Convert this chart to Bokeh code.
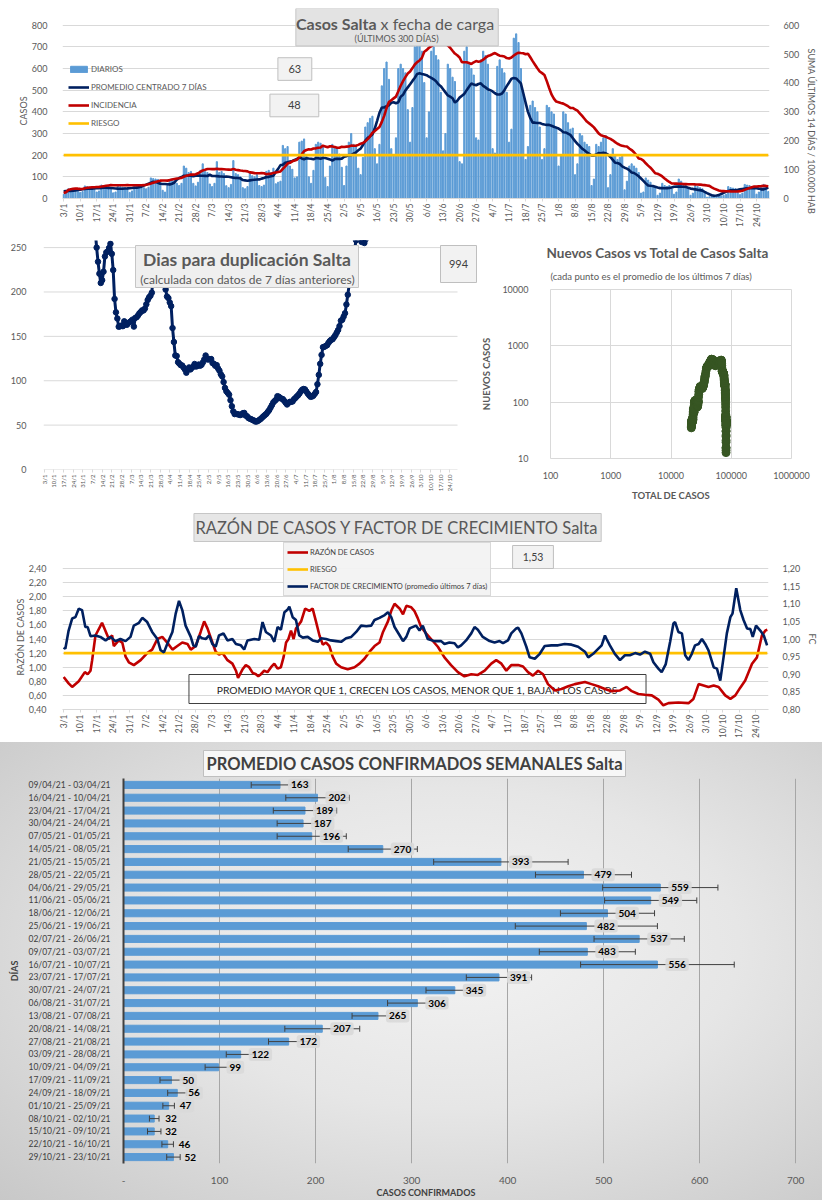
import math
import numpy as np
import pandas as pd
from bokeh.plotting import figure
from bokeh.layouts import column, row
from bokeh.models import (Range1d, LinearAxis, FixedTicker, Label, ColumnDataSource,
                          Whisker, TeeHead, CustomJSTickFormatter, Title)
from bokeh.core.properties import value
from bokeh.embed import file_html
from bokeh.resources import INLINE

# ----------------------------------------------------------------- DATOS
ETIQUETAS_X = ["3/1", "10/1", "17/1", "24/1", "31/1", "7/2", "14/2", "21/2", "28/2", "7/3",
               "14/3", "21/3", "28/3", "4/4", "11/4", "18/4", "25/4", "2/5", "9/5", "16/5",
               "23/5", "30/5", "6/6", "13/6", "20/6", "27/6", "4/7", "11/7", "18/7", "25/7",
               "1/8", "8/8", "15/8", "22/8", "29/8", "5/9", "12/9", "19/9", "26/9", "3/10",
               "10/10", "17/10", "24/10"]

# casos diarios por fecha de carga, 3/1/21 .. 29/10/21 (una fila por semana, dom..sab)
DIARIOS = [
    20, 25, 45, 42, 40, 40, 33,
    28, 32, 58, 55, 52, 50, 40,
    30, 35, 62, 60, 58, 56, 49,
    26, 30, 58, 54, 52, 50, 45,
    28, 35, 62, 60, 58, 57, 50,
    45, 52, 95, 92, 90, 88, 77,
    38, 30, 60, 85, 90, 82, 70,
    60, 70, 150, 140, 120, 125, 70,
    58, 75, 130, 160, 125, 120, 67,
    55, 70, 170, 120, 125, 115, 59,
    50, 65, 175, 115, 110, 100, 50,
    45, 55, 120, 105, 100, 110, 60,
    55, 62, 125, 130, 120, 140, 68,
    75, 80, 245, 230, 240, 150, 135,
    95, 100, 260, 265, 275, 200, 100,
    70, 130, 250, 260, 255, 240, 97,
    55, 150, 250, 240, 230, 205, 144,
    60, 150, 260, 300, 250, 240, 140,
    110, 190, 330, 350, 370, 380, 230,
    160, 250, 520, 600, 630, 550, 230,
    200, 280, 600, 620, 600, 580, 410,
    260, 420, 700, 720, 710, 680, 535,
    280, 400, 680, 700, 660, 640, 490,
    220, 300, 620, 600, 560, 540, 450,
    170, 160, 680, 700, 620, 600, 570,
    280, 270, 640, 680, 660, 620, 490,
    230, 210, 610, 640, 600, 580, 490,
    260, 320, 740, 760, 720, 600, 480,
    180, 240, 430, 450, 420, 400, 330,
    180, 230, 430, 420, 400, 390, 330,
    150, 200, 400, 390, 350, 320, 325,
    110, 160, 300, 290, 260, 250, 240,
    60, 90, 250, 240, 260, 280, 290,
    50, 110, 230, 200, 180, 190, 195,
    40, 80, 150, 160, 150, 140, 120,
    25, 30, 95, 85, 75, 60, 50,
    15, 25, 70, 60, 55, 60, 44,
    20, 30, 90, 80, 60, 60, 45,
    15, 25, 60, 55, 50, 45, 30,
    6, 8, 18, 15, 14, 16, 12,
    15, 20, 55, 50, 48, 45, 33,
    18, 25, 65, 62, 60, 55, 44,
    20, 30, 60, 65, 45, 32,
]
TOTAL_PREVIO = 21500          # casos acumulados al 2/1/21
POBLACION = 1440000
RIESGO_CASOS = 200
CAJA_DIARIOS = "63"
CAJA_INCIDENCIA = "48"
CAJA_DUPLICACION = "994"

# razon de casos (dia desde 3/1, valor)
RAZON_DIA = [0, 2.1, 3.6, 6.4, 9.0, 10.2, 11.4, 12.1, 13.5, 16.3,
             19.2, 20.6, 21.3, 23.4, 24.9, 26.3, 27.7, 29.8, 32.7, 35.5,
             37.6, 39.8, 41.9, 44.0, 46.2, 48.3, 50.4, 52.6, 54.0, 56.1,
             58.2, 59.7, 61.1, 63.2, 64.6, 66.0, 67.5, 69.6, 71.7, 73.2,
             74.1, 76.0, 77.4, 78.8, 80.3, 81.7, 82.7, 83.8, 85.2, 86.6,
             88.1, 89.5, 90.9, 92.3, 93.5, 94.5, 95.5, 96.6, 97.7, 98.7,
             100.9, 102.6, 104.4, 105.8, 107.2, 108.7, 110.1, 111.5, 112.9, 114.3,
             115.8, 117.9, 120.7, 123.6, 125.7, 127.8, 130.0, 132.1, 134.2, 135.7,
             137.8, 139.2, 140.6, 142.8, 144.2, 145.6, 147.7, 149.0, 150.4, 151.9,
             154.0, 156.1, 159.0, 161.8, 164.6, 167.5, 170.3, 173.2, 176.0, 178.9,
             181.7, 183.8, 186.0, 188.1, 190.2, 193.1, 195.2, 197.3, 199.4, 201.6,
             203.7, 205.8, 208.7, 211.5, 214.4, 217.2, 221.5, 224.3, 227.1, 230.0,
             232.8, 236.4, 239.2, 241.4, 244.2, 247.0, 249.9, 252.7, 254.8, 257.0,
             261.2, 265.5, 267.6, 269.8, 271.9, 274.0, 276.2, 278.3, 281.1, 283.3,
             285.4, 287.5, 289.6, 292.5, 294.6, 296.7, 298.2, 299.0]
RAZON_VAL = [0.86, 0.77, 0.72, 0.80, 0.93, 0.90, 0.95, 1.10, 1.45, 1.63,
             1.40, 1.45, 1.30, 1.38, 1.35, 1.15, 1.07, 1.03, 1.10, 1.20,
             1.25, 1.40, 1.43, 1.35, 1.25, 1.30, 1.35, 1.33, 1.25, 1.30,
             1.50, 1.65, 1.55, 1.35, 1.22, 1.18, 1.20, 1.10, 1.05, 0.95,
             0.85, 0.97, 1.03, 1.00, 0.92, 0.90, 0.87, 0.90, 0.95, 0.93,
             1.00, 1.05, 0.98, 1.00, 1.15, 1.35, 1.40, 1.52, 1.40, 1.55,
             1.65, 1.83, 1.80, 1.83, 1.65, 1.45, 1.32, 1.35, 1.30, 1.15,
             1.05, 1.00, 0.97, 1.00, 1.05, 1.12, 1.22, 1.30, 1.35, 1.50,
             1.65, 1.80, 1.90, 1.83, 1.75, 1.87, 1.85, 1.80, 1.70, 1.57,
             1.48, 1.40, 1.29, 1.14, 1.03, 0.93, 0.87, 0.90, 0.89, 0.95,
             1.05, 1.10, 1.05, 0.95, 1.03, 1.03, 1.01, 0.93, 0.88, 0.95,
             0.90, 0.76, 0.67, 0.69, 0.73, 0.76, 0.79, 0.76, 0.73, 0.69,
             0.66, 0.67, 0.72, 0.66, 0.62, 0.61, 0.60, 0.54, 0.46, 0.49,
             0.50, 0.49, 0.55, 0.76, 0.74, 0.72, 0.74, 0.72, 0.60, 0.55,
             0.60, 0.71, 0.81, 1.05, 1.14, 1.45, 1.52, 1.53]
RIESGO_RAZON = 1.2
CAJA_RAZON = "1,53"

# factor de crecimiento (promedio ultimos 7 dias)
FC_DIA = [0, 0.7, 2.1, 3.6, 5.0, 6.4, 7.8, 9.2, 10.2, 11.4,
          13.5, 15.6, 17.8, 19.9, 22.0, 24.1, 26.3, 28.4, 29.8, 32.0,
          33.4, 35.5, 37.6, 39.8, 41.2, 42.6, 44.0, 46.2, 47.6, 49.0,
          50.4, 51.8, 54.0, 55.1, 56.1, 57.5, 58.9, 60.4, 61.8, 63.2,
          64.6, 66.0, 67.9, 69.6, 71.7, 73.2, 75.3, 76.7, 78.1, 81.0,
          83.1, 84.5, 85.9, 88.1, 89.5, 90.9, 92.3, 93.8, 95.2, 95.9,
          97.3, 98.7, 100.1, 101.6, 103.7, 105.8, 108.0, 109.4, 111.5, 113.6,
          115.8, 117.9, 120.0, 122.2, 124.3, 126.4, 128.6, 130.7, 132.1, 134.2,
          136.4, 137.8, 139.2, 140.6, 142.8, 144.2, 145.6, 147.0, 149.7, 151.2,
          152.6, 154.7, 157.5, 160.4, 161.8, 163.9, 166.1, 167.5, 168.9, 171.0,
          173.2, 174.6, 176.0, 178.1, 181.0, 183.1, 185.2, 186.7, 188.8, 190.2,
          192.3, 193.1, 194.5, 196.6, 198.0, 200.2, 202.3, 204.4, 207.3, 210.1,
          212.9, 215.8, 218.6, 221.5, 222.9, 225.0, 227.1, 228.6, 230.0, 230.7,
          232.1, 234.2, 236.4, 238.5, 240.6, 242.8, 244.9, 247.0, 249.2, 250.6,
          252.7, 254.1, 255.8, 257.7, 259.1, 259.8, 261.2, 262.7, 264.1, 265.5,
          266.9, 268.3, 269.8, 271.2, 272.6, 274.0, 276.2, 277.6, 279.0, 280.4,
          281.8, 283.3, 284.2, 285.8, 287.5, 288.9, 290.4, 291.8, 292.8, 294.2,
          296.0, 297.5, 298.9]
FC_VAL = [0.976, 0.972, 1.024, 1.058, 1.062, 1.086, 1.082, 1.034, 1.034, 1.008,
          1.010, 1.006, 0.996, 1.006, 0.994, 1.000, 0.994, 1.006, 1.038, 1.046,
          1.060, 1.048, 1.020, 1.000, 0.968, 0.962, 0.986, 1.020, 1.072, 1.108,
          1.082, 1.038, 1.006, 0.982, 0.978, 1.008, 1.002, 1.000, 1.010, 0.986,
          0.978, 1.010, 1.016, 0.996, 1.000, 0.986, 0.982, 0.970, 0.996, 1.000,
          0.998, 1.048, 1.020, 1.010, 0.992, 1.034, 1.026, 1.076, 1.084, 1.092,
          1.062, 1.054, 1.010, 1.004, 1.006, 0.996, 0.992, 1.002, 1.000, 0.996,
          0.994, 0.992, 1.002, 1.006, 1.020, 1.038, 1.036, 1.038, 1.054, 1.060,
          1.068, 1.076, 1.062, 1.034, 1.010, 0.994, 1.006, 1.030, 1.038, 1.024,
          1.038, 1.000, 0.994, 0.994, 0.986, 0.990, 0.988, 0.976, 0.982, 0.996,
          1.016, 1.034, 1.026, 1.006, 0.994, 0.990, 0.994, 0.988, 0.996, 1.016,
          1.030, 1.032, 1.016, 0.978, 0.948, 0.944, 0.958, 0.980, 0.982, 0.982,
          0.986, 0.984, 0.978, 0.964, 0.948, 0.958, 0.972, 0.982, 1.010, 1.000,
          0.982, 0.958, 0.940, 0.954, 0.954, 0.960, 0.956, 0.964, 0.958, 0.934,
          0.916, 0.906, 0.928, 0.992, 1.044, 1.048, 1.020, 1.016, 0.954, 0.940,
          0.958, 0.982, 0.986, 1.000, 0.986, 0.968, 0.920, 0.916, 0.882, 0.948,
          1.016, 1.062, 1.072, 1.144, 1.082, 1.054, 1.030, 1.028, 1.006, 1.038,
          1.024, 1.010, 0.982]

SEMANAS = ["09/04/21 - 03/04/21", "16/04/21 - 10/04/21", "23/04/21 - 17/04/21",
           "30/04/21 - 24/04/21", "07/05/21 - 01/05/21", "14/05/21 - 08/05/21",
           "21/05/21 - 15/05/21", "28/05/21 - 22/05/21", "04/06/21 - 29/05/21",
           "11/06/21 - 05/06/21", "18/06/21 - 12/06/21", "25/06/21 - 19/06/21",
           "02/07/21 - 26/06/21", "09/07/21 - 03/07/21", "16/07/21 - 10/07/21",
           "23/07/21 - 17/07/21", "30/07/21 - 24/07/21", "06/08/21 - 31/07/21",
           "13/08/21 - 07/08/21", "20/08/21 - 14/08/21", "27/08/21 - 21/08/21",
           "03/09/21 - 28/08/21", "10/09/21 - 04/09/21", "17/09/21 - 11/09/21",
           "24/09/21 - 18/09/21", "01/10/21 - 25/09/21", "08/10/21 - 02/10/21",
           "15/10/21 - 09/10/21", "22/10/21 - 16/10/21", "29/10/21 - 23/10/21"]
PROMEDIO_SEMANAL = [163, 202, 189, 187, 196, 270, 393, 479, 559, 549, 504, 482, 537, 483, 556,
                    391, 345, 306, 265, 207, 172, 122, 99, 50, 56, 47, 32, 32, 46, 52]
ERROR_SEMANAL = [30, 33, 33, 27, 36, 36, 70, 50, 60, 48, 49, 74, 47, 50, 80,
                 34, 30, 31, 27, 39, 21, 15, 14, 12, 10, 6, 5, 7, 6, 7]

TICKS_CASOS = [0, 100, 200, 300, 400, 500, 600, 700, 800]
TICKS_INC = [0, 100, 200, 300, 400, 500, 600]
TICKS_DUPL = [0, 50, 100, 150, 200, 250]
TICKS_RAZON = [0.4, 0.6, 0.8, 1.0, 1.2, 1.4, 1.6, 1.8, 2.0, 2.2, 2.4]
TICKS_FC = [0.80, 0.85, 0.90, 0.95, 1.00, 1.05, 1.10, 1.15, 1.20]
TICKS_BARRAS = [0, 100, 200, 300, 400, 500, 600, 700]
TICKS_TOTAL = [100, 1000, 10000, 100000, 1000000]
TICKS_NUEVOS = [10, 100, 1000, 10000]

# ----------------------------------------------------------------- ESTILO
FUENTE = "Lato"
GRILLA = "#d9d9d9"
TEXTO = "#595959"
OSCURO = "#404040"
AZUL_BARRA = "#5b9bd5"
AZUL = "#002060"
ROJO = "#c00000"
AMARILLO = "#ffc000"
VERDE = "#375623"

dias = list(range(len(DIARIOS)))
serie = pd.Series(DIARIOS, dtype=float)
prom7 = serie.rolling(7, center=True, min_periods=1).mean().to_numpy()
incid = (serie.rolling(14, min_periods=1).mean() * 14 / POBLACION * 1e5).to_numpy()
total = TOTAL_PREVIO + serie.cumsum()
dupl = (7 * np.log(2) / np.log(total / total.shift(7))).to_numpy()
prom_ult7 = serie.rolling(7, min_periods=7).mean().to_numpy()

coma = CustomJSTickFormatter(code="return tick.toFixed(2).replace('.', ',');")


def escala(p0, p1, d0, d1):
    return lambda px: d0 + (px - p0) * (d1 - d0) / (p1 - p0)


def fig(**kw):
    return figure(output_backend="svg", toolbar_location=None, frame_align=False, **kw)


def base(p):
    p.outline_line_color = None
    p.background_fill_color = "white"
    p.border_fill_color = "white"
    p.grid.grid_line_color = GRILLA
    for ax in p.axis:
        ax.major_label_text_font = FUENTE
        ax.major_label_text_color = TEXTO
        ax.major_label_text_font_size = "9px"
        ax.axis_label_text_font = FUENTE
        ax.axis_label_text_color = TEXTO
        ax.axis_label_text_font_style = "bold"
        ax.minor_tick_line_color = None


def eje_fechas(p, size):
    ax = p.xaxis[0]
    ax.ticker = FixedTicker(ticks=[7 * i for i in range(len(ETIQUETAS_X))])
    ax.major_label_overrides = {7 * i: t for i, t in enumerate(ETIQUETAS_X)}
    ax.major_label_orientation = math.pi / 2
    ax.major_label_text_font_size = size
    ax.axis_line_color = GRILLA
    ax.major_tick_line_color = GRILLA
    ax.major_tick_in = 0
    ax.major_tick_out = 3
    ax.major_label_standoff = 2
    p.xgrid.visible = False


def eje_y_limpio(ax, standoff):
    ax.axis_line_color = None
    ax.major_tick_line_color = None
    ax.major_label_standoff = standoff


def caja(p, X, Y, x0, x1, y0, y1, fill, line="#bfbfbf", alpha=1.0):
    p.quad(left=[X(x0)], right=[X(x1)], top=[Y(y0)], bottom=[Y(y1)],
           fill_color=fill, fill_alpha=alpha, line_color=line, line_width=1)


def texto(p, X, Y, x, y, t, size, style="normal", color=TEXTO, align="center"):
    p.text(x=[X(x)], y=[Y(y)], text=[t], text_font=value(FUENTE), text_font_size=size,
           text_font_style=style, text_color=color, text_align=align, text_baseline="middle")


def estilo_titulo(t, texto_, size, offset, standoff, style="normal", color=TEXTO, **kw):
    t.text = texto_
    t.align = "left"
    t.offset = offset
    t.standoff = standoff
    t.text_font = FUENTE
    t.text_font_size = size
    t.text_font_style = style
    t.text_color = color
    for k, v in kw.items():
        setattr(t, k, v)
    return t


def titulo(p, lado, texto_, size, offset, standoff, style="normal", color=TEXTO, **kw):
    p.add_layout(estilo_titulo(Title(text=texto_), texto_, size, offset, standoff, style, color, **kw),
                 lado)


def leyenda(p, loc, size, spacing, padding):
    lg = p.legend[0]
    lg.location = loc
    lg.margin = 0
    lg.padding = padding
    lg.spacing = spacing
    lg.glyph_width = 21
    lg.glyph_height = 8
    lg.label_height = 12
    lg.label_standoff = 2
    lg.label_text_font = FUENTE
    lg.label_text_font_size = size
    lg.label_text_color = TEXTO
    lg.label_text_line_height = 1.0
    return lg


# ======================================================= 1: casos diarios
X1 = escala(62, 771, -0.5, 299.5)
Y1 = escala(201, 8, 0, 877)
p1 = fig(width=822, height=230, x_range=Range1d(-0.5, 299.5), y_range=Range1d(0, 877),
         min_border_left=62, min_border_right=51, min_border_top=8, min_border_bottom=29)
p1.extra_y_ranges = {"inc": Range1d(0, 877 * 0.75)}
p1.vbar(x=dias, top=DIARIOS, width=0.5, color=AZUL_BARRA, legend_label="DIARIOS")
p1.line(dias, prom7, color=AZUL, line_width=2.6, legend_label="PROMEDIO CENTRADO 7 DÍAS")
p1.line(dias, incid, color=ROJO, line_width=2.6, y_range_name="inc", legend_label="INCIDENCIA")
p1.line(dias, [RIESGO_CASOS] * len(dias), color=AMARILLO, line_width=2.6, legend_label="RIESGO")
p1.yaxis.ticker = FixedTicker(ticks=TICKS_CASOS)
p1.ygrid.ticker = FixedTicker(ticks=TICKS_CASOS)
p1.add_layout(LinearAxis(y_range_name="inc", ticker=FixedTicker(ticks=TICKS_INC)), "right")
caja(p1, X1, Y1, 296, 499, 8, 46, "#e3e3e3", "#c6c6c6")
texto(p1, X1, Y1, 377, 23, "Casos Salta", "16px", "bold", align="right")
texto(p1, X1, Y1, 381, 23, "x fecha de carga", "16px", align="left")
texto(p1, X1, Y1, 397, 38.5, "(ÚLTIMOS 300 DÍAS)", "9px")
caja(p1, X1, Y1, 278, 312, 58, 81, "#f2f2f2")
texto(p1, X1, Y1, 295, 69.5, CAJA_DIARIOS, "11px", color=OSCURO)
caja(p1, X1, Y1, 270, 319, 95, 118, "#f2f2f2")
texto(p1, X1, Y1, 294.5, 106.5, CAJA_INCIDENCIA, "11px", color=OSCURO)
base(p1)
eje_fechas(p1, "8.5px")
eje_y_limpio(p1.yaxis[0], 9)
eje_y_limpio(p1.yaxis[1], 8)
leyenda(p1, (6, 69), "8px", 6, 0)
p1.legend.background_fill_alpha = 0
p1.legend.border_line_color = None
titulo(p1, "left", "CASOS", "9px", offset=73, standoff=0)
titulo(p1, "right", "SUMA  ÚLTIMOS 14 DÍAS / 100.000 HAB", "9px", offset=40, standoff=7)

# ======================================================= 2: duplicacion
X2 = escala(43, 457, -0.5, 299.5)
Y2 = escala(469, 240, 0, 258)
p2 = fig(width=478, height=276, x_range=Range1d(-0.5, X2(478)), y_range=Range1d(0, 258),
         min_border_left=43, min_border_right=0, min_border_top=10, min_border_bottom=37)
p2.segment(x0=[-0.5] * len(TICKS_DUPL), x1=[299.5] * len(TICKS_DUPL), y0=TICKS_DUPL, y1=TICKS_DUPL,
           line_color=GRILLA, line_width=1)
p2.line(dias, dupl, color=AZUL, line_width=3)
p2.scatter(dias, dupl, size=5.5, color=AZUL)
p2.yaxis.ticker = FixedTicker(ticks=TICKS_DUPL)
caja(p2, X2, Y2, 135, 358, 245, 287, "#efefef", "#c6c6c6")
texto(p2, X2, Y2, 246.5, 259, "Dias para duplicación Salta", "17.5px", "bold")
texto(p2, X2, Y2, 247, 278.5, "(calculada con datos de 7 días anteriores)", "12px")
caja(p2, X2, Y2, 440, 476, 245, 282, "#f2f2f2")
texto(p2, X2, Y2, 458, 263.5, CAJA_DUPLICACION, "11px", color=OSCURO)
base(p2)
p2.ygrid.visible = False
eje_fechas(p2, "6px")
p2.xaxis.axis_line_color = None
eje_y_limpio(p2.yaxis[0], 11)

# ======================================================= 3: nuevos vs total
p3 = fig(width=344, height=276, x_axis_type="log", y_axis_type="log",
         x_range=Range1d(100, 1e6), y_range=Range1d(10, 1e4),
         min_border_left=63, min_border_right=31, min_border_top=59, min_border_bottom=48)
tot = total.to_numpy()[6:]
nue = prom_ult7[6:]
p3.line(tot, nue, color=VERDE, line_width=3)
p3.scatter(tot, nue, size=8, color=VERDE)
entero = CustomJSTickFormatter(code="return tick.toFixed(0);")
p3.xaxis.ticker = FixedTicker(ticks=TICKS_TOTAL)
p3.yaxis.ticker = FixedTicker(ticks=TICKS_NUEVOS)
p3.xgrid.ticker = FixedTicker(ticks=TICKS_TOTAL)
p3.ygrid.ticker = FixedTicker(ticks=TICKS_NUEVOS)
p3.xaxis.formatter = entero
p3.yaxis.formatter = entero
p3.xaxis.axis_label = "TOTAL DE CASOS"
p3.yaxis.axis_label = "NUEVOS CASOS"
base(p3)
p3.outline_line_color = GRILLA
for ax in p3.axis:
    ax.axis_line_color = None
    ax.major_tick_line_color = None
    ax.major_label_text_font_size = "9px"
    ax.axis_label_text_font_size = "9.5px"
p3.xaxis.major_label_standoff = 7
p3.xaxis.axis_label_standoff = 8
p3.yaxis.major_label_standoff = 16
p3.yaxis.axis_label_standoff = 7
estilo_titulo(p3.title, "Nuevos Casos vs Total de Casos Salta", "13.5px", offset=-4, standoff=0,
              style="bold")
titulo(p3, "above", "(cada punto es el promedio de los últimos 7 días)", "9.5px", offset=0, standoff=16)

# ======================================================= 4: razon y factor
Y4_FIN = 0.4 + (709 - 510) / 70.5
X4 = escala(62, 771, -0.5, 299.5)
Y4 = escala(709, 510, 0.4, Y4_FIN)
p4 = fig(width=822, height=236, x_range=Range1d(-0.5, 299.5), y_range=Range1d(0.4, Y4_FIN),
         min_border_left=62, min_border_right=51, min_border_top=4, min_border_bottom=33)
p4.extra_y_ranges = {"fc": Range1d(0.8, 0.8 + (Y4_FIN - 0.4) * 0.2)}
caja(p4, X4, Y4, 189, 648, 674, 703, "white", OSCURO, alpha=0.0)
texto(p4, X4, Y4, 418, 689, "PROMEDIO MAYOR QUE 1, CRECEN LOS CASOS, MENOR QUE 1, BAJAN LOS CASOS",
      "10.3px", color="#262626")
p4.line(RAZON_DIA, RAZON_VAL, color=ROJO, line_width=2.6, legend_label="RAZÓN DE CASOS")
p4.line(dias, [RIESGO_RAZON] * len(dias), color=AMARILLO, line_width=2.6, legend_label="RIESGO")
p4.line(FC_DIA, FC_VAL, color=AZUL, line_width=2.6, y_range_name="fc",
        legend_label="FACTOR DE CRECIMIENTO (promedio últimos 7 días)")
p4.yaxis.ticker = FixedTicker(ticks=TICKS_RAZON)
p4.yaxis.formatter = coma
p4.ygrid.ticker = FixedTicker(ticks=TICKS_RAZON)
p4.add_layout(LinearAxis(y_range_name="fc", ticker=FixedTicker(ticks=TICKS_FC), formatter=coma), "right")
caja(p4, X4, Y4, 194, 603, 513, 541, "#e6e6e6", "#c6c6c6")
texto(p4, X4, Y4, 398, 527, "RAZÓN DE CASOS Y FACTOR DE CRECIMIENTO Salta", "16.5px")
caja(p4, X4, Y4, 514, 555, 545, 568, "#f2f2f2")
texto(p4, X4, Y4, 534.5, 556.5, CAJA_RAZON, "10.5px", color=OSCURO)
base(p4)
eje_fechas(p4, "8.5px")
eje_y_limpio(p4.yaxis[0], 10)
eje_y_limpio(p4.yaxis[1], 8)
lg4 = leyenda(p4, (221, 113), "7.5px", 5, 3)
lg4.background_fill_color = "#f2f2f2"
lg4.border_line_color = "#bfbfbf"
lg4.label_text_color = OSCURO
titulo(p4, "left", "RAZÓN DE CASOS", "9px", offset=34, standoff=0)
titulo(p4, "right", "FC", "9px", offset=123, standoff=6)

# ======================================================= 5: promedio semanal
p5 = fig(width=822, height=458, x_range=Range1d(0, 705), y_range=Range1d(29.5, -0.5),
         min_border_left=123, min_border_right=22, min_border_top=36, min_border_bottom=37)
idx = list(range(len(SEMANAS)))
src = ColumnDataSource(dict(
    y=idx, v=PROMEDIO_SEMANAL,
    lo=[v - e for v, e in zip(PROMEDIO_SEMANAL, ERROR_SEMANAL)],
    hi=[v + e for v, e in zip(PROMEDIO_SEMANAL, ERROR_SEMANAL)]))
p5.hbar(y="y", right="v", left=0, height=0.55, color=AZUL_BARRA, source=src)
bigote = Whisker(source=src, base="y", lower="lo", upper="hi", dimension="width",
                 line_color=OSCURO, line_width=1, level="annotation",
                 upper_head=TeeHead(size=6, line_color=OSCURO, line_width=1),
                 lower_head=TeeHead(size=6, line_color=OSCURO, line_width=1))
p5.add_layout(bigote)
for i, v in enumerate(PROMEDIO_SEMANAL):
    p5.add_layout(Label(x=v, y=i, x_offset=8, text=str(v), text_font=FUENTE,
                        text_font_size="10px", text_font_style="bold", text_color="black",
                        text_align="left", text_baseline="middle",
                        background_fill_color="#d9d9d9", background_fill_alpha=0.9,
                        padding=3, border_radius=3, level="overlay"))
p5.yaxis.ticker = FixedTicker(ticks=idx)
p5.yaxis.major_label_overrides = {i: s for i, s in enumerate(SEMANAS)}
p5.xaxis.ticker = FixedTicker(ticks=TICKS_BARRAS)
p5.xgrid.ticker = FixedTicker(ticks=TICKS_BARRAS)
p5.xaxis.formatter = CustomJSTickFormatter(code="return tick == 0 ? '-' : tick.toFixed(0);")
p5.yaxis.axis_label = "DÍAS"
base(p5)
p5.background_fill_alpha = 0
p5.border_fill_alpha = 0
p5.styles = {"background": "radial-gradient(ellipse at 55% 45%, #f3f3f3 0%, #e6e6e6 45%, #c8c8c8 100%)"}
p5.ygrid.visible = False
p5.xgrid.grid_line_color = "#a6a6a6"
p5.xaxis.axis_line_color = None
p5.xaxis.major_tick_line_color = None
p5.xaxis.major_label_text_font_size = "10px"
p5.xaxis.major_label_standoff = 7
p5.yaxis.axis_line_color = OSCURO
p5.yaxis.axis_line_width = 2
p5.yaxis.major_tick_line_color = None
p5.yaxis.major_label_text_font_size = "8.5px"
p5.yaxis.major_label_text_color = OSCURO
p5.yaxis.major_label_standoff = 7
p5.yaxis.axis_label_text_font_size = "9px"
p5.yaxis.axis_label_text_color = OSCURO
p5.yaxis.axis_label_standoff = 5
estilo_titulo(p5.title, "PROMEDIO CASOS CONFIRMADOS SEMANALES Salta", "16.5px", offset=80, standoff=4,
              style="bold", color=OSCURO, background_fill_color="#f7f7f7",
              border_line_color="#bfbfbf", padding=3)
titulo(p5, "below", "CASOS CONFIRMADOS", "9px", offset=253, standoff=0, style="bold", color=OSCURO,
       vertical_align="top")

pagina = column(p1, row(p2, p3), p4, p5)
open("out.html", "w").write(file_html(pagina, INLINE))
